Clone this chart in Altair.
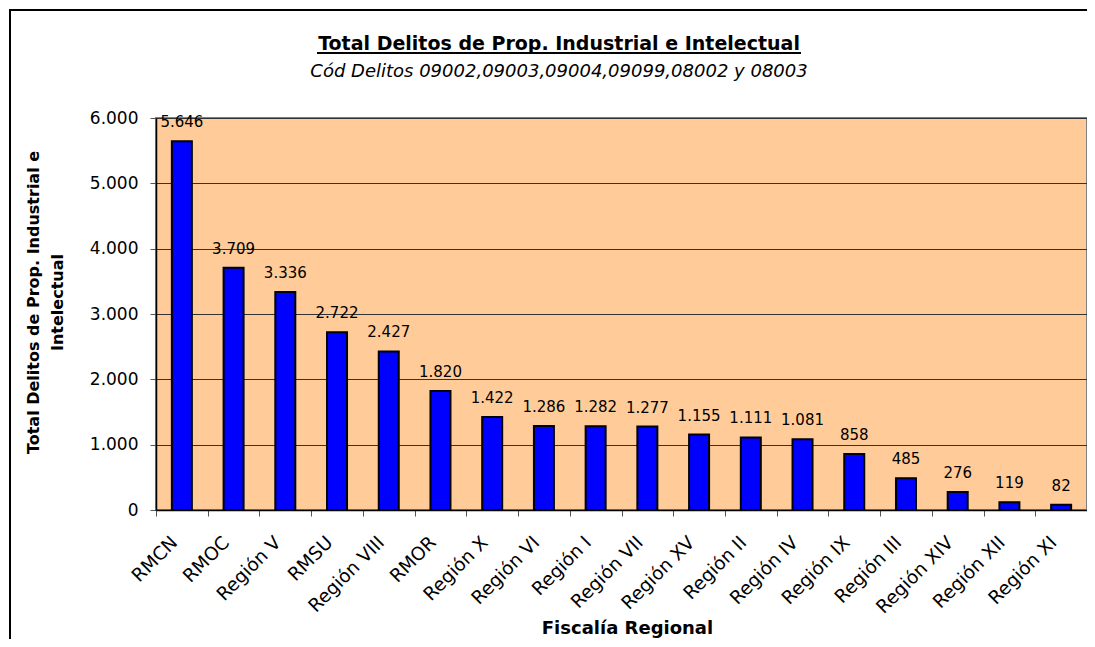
import altair as alt
import pandas as pd

categories = ["RMCN", "RMOC", "Región V", "RMSU", "Región VIII", "RMOR", "Región X",
              "Región VI", "Región I", "Región VII", "Región XV", "Región II", "Región IV",
              "Región IX", "Región III", "Región XIV", "Región XII", "Región XI"]
values = [5646, 3709, 3336, 2722, 2427, 1820, 1422, 1286, 1282, 1277, 1155, 1111, 1081,
          858, 485, 276, 119, 82]
y_ticks = [0, 1000, 2000, 3000, 4000, 5000, 6000]

title_text = "Total Delitos de Prop. Industrial e Intelectual"
subtitle_text = "Cód Delitos 09002,09003,09004,09099,08002 y 08003"
y_title = ["Total Delitos de Prop. Industrial e", "Intelectual"]
x_title = "Fiscalía Regional"

df = pd.DataFrame({"region": categories, "total": values})

FONT = "DejaVu Sans"
W, H = 931, 392

x_enc = alt.X(
    "region:N", sort=categories,
    scale=alt.Scale(paddingInner=0, paddingOuter=0),
    axis=alt.Axis(
        title=x_title, labelAngle=-45, labelAlign="right", labelBaseline="middle",
        labelFontSize=18.5, labelFont=FONT, labelColor="black", labelPadding=23,
        labelOffset=-8, tickBand="extent", tickSize=6,
        tickColor="#555555", domainColor="black", domainWidth=1.5, grid=False,
        titleFontSize=18, titleFont=FONT, titleFontWeight="bold", titleColor="black",
        titleX=471, titleY=123, titleBaseline="alphabetic", titleAlign="center",
    ),
)
y_enc = alt.Y(
    "total:Q",
    scale=alt.Scale(domain=[0, 6000]),
    axis=alt.Axis(
        values=y_ticks,
        labelExpr="replace(format(datum.value, ','), ',', '.')",
        labelFontSize=17, labelFont=FONT, labelColor="black", labelPadding=12,
        tickSize=6, tickColor="#555555", grid=True, gridColor="#333333", gridWidth=1,
        domainColor="black", domainWidth=1.5,
        title=y_title, titleFontSize=16, titleFont=FONT, titleFontWeight="bold",
        titleColor="black", titleX=-131, titleY=184, titleBaseline="top",
        titleAlign="center", titleLineHeight=24,
    ),
)

base = alt.Chart(df)
bars = base.mark_bar(size=20, color="#0000FF", stroke="black", strokeWidth=2).encode(
    x=x_enc, y=y_enc
)
labels = base.transform_calculate(
    lbl="replace(format(datum.total, ','), ',', '.')"
).mark_text(dy=-14, baseline="alphabetic", fontSize=15, font=FONT, color="black").encode(
    x=alt.X("region:N", sort=categories), y=alt.Y("total:Q"), text="lbl:N"
)

one = alt.Data(values=[{"k": 1}])
border = alt.Chart(one).mark_rect(filled=False, stroke="black", strokeWidth=2).encode(
    x=alt.value(-146), x2=alt.value(1200), y=alt.value(-108), y2=alt.value(900)
)
title_mark = alt.Chart(one).mark_text(
    font=FONT, fontSize=19, fontWeight="bold", color="black",
    align="center", baseline="alphabetic"
).encode(x=alt.value(403), y=alt.value(-68), text=alt.value(title_text))
underline = alt.Chart(one).mark_rule(color="black", strokeWidth=2).encode(
    x=alt.value(161), x2=alt.value(645), y=alt.value(-65)
)
subtitle_mark = alt.Chart(one).mark_text(
    font=FONT, fontSize=18, fontStyle="italic", color="black",
    align="center", baseline="alphabetic"
).encode(x=alt.value(403), y=alt.value(-41), text=alt.value(subtitle_text))

chart = alt.layer(bars, labels, border, title_mark, underline, subtitle_mark).properties(
    width=W, height=H,
    background="white",
    autosize=alt.AutoSizeParams(type="none"),
    padding={"left": 148, "top": 110, "right": 0, "bottom": 129},
).configure_view(
    fill="#FFCC99", stroke="#808080", strokeWidth=2
)

chart.save("out.html", embed_options={"renderer": "svg", "actions": False})
